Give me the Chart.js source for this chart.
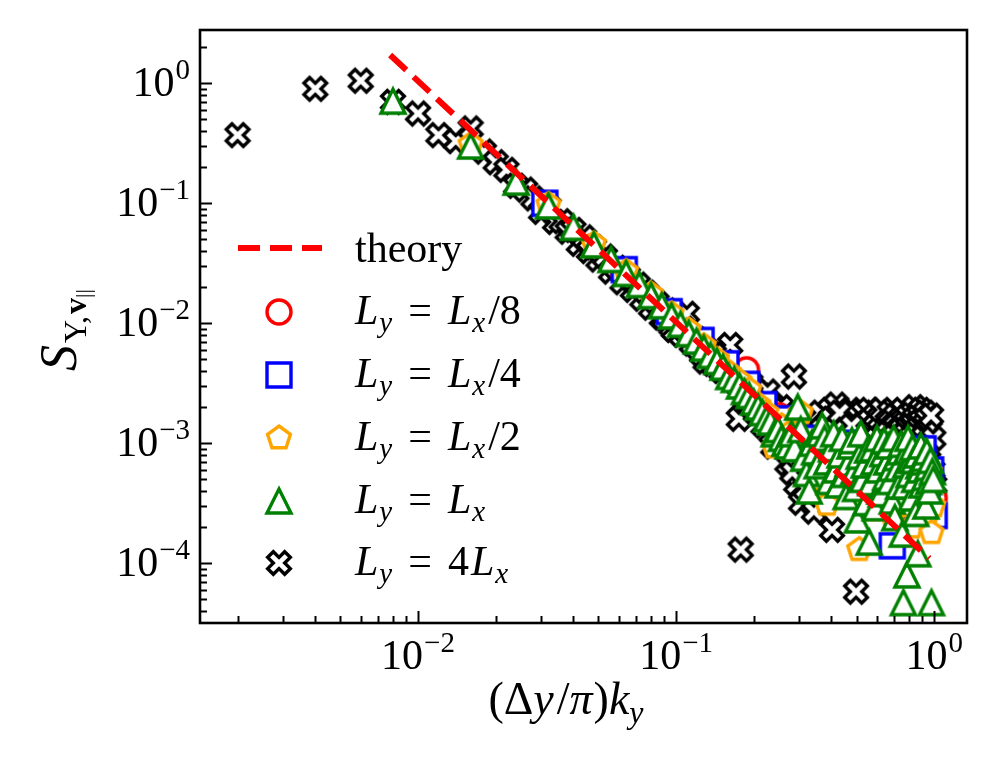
<!DOCTYPE html>
<html>
<head>
<meta charset="utf-8">
<script src="https://cdn.jsdelivr.net/npm/chart.js@4.4.1/dist/chart.umd.min.js"></script>
<style>
  html, body { margin: 0; padding: 0; background: #fff; }
  #wrap { width: 997px; height: 773px; }
</style>
</head>
<body>
<div id="wrap"><canvas id="chart" width="997" height="773"></canvas></div>
<script>
const SERIF = '"Liberation Serif", "DejaVu Serif", serif';

// axis ranges and tick exponents
const xMin = 0.00143, xMax = 1.34;
const yMin = 3.18e-5, yMax = 2.78;
const xTickExp = [-2, -1, 0];
const yTickExp = [-4, -3, -2, -1, 0];

// theory: power law drawn between its two ends
const theoryK = [0.0078, 0.957];
const theoryS = [1.72, 1.1e-4];

// L_y = L_x/8
const kLx8 = [0.0625, 0.125, 0.1875, 0.25, 0.3125, 0.375, 0.4375, 0.5, 0.5625, 0.625, 0.6875, 0.75, 0.8125, 0.875, 0.9375, 1.0];
const sLx8 = [0.027, 0.0070, 0.0041, 0.0017, 0.0011, 0.00080, 0.00065, 0.00048, 0.00060, 0.00040, 0.00055, 0.00035, 0.00050, 0.00042, 0.00030, 0.00035];

// L_y = L_x/4
const kLx4 = [0.031, 0.063, 0.094, 0.125, 0.156, 0.188, 0.219, 0.250, 0.281, 0.313, 0.344, 0.375, 0.406, 0.438, 0.469, 0.500,
  0.531, 0.563, 0.594, 0.625, 0.656, 0.688, 0.719, 0.750, 0.781, 0.813, 0.844, 0.875, 0.906, 0.938, 0.969, 1.000];
const sLx4 = [0.100, 0.028, 0.0125, 0.0072, 0.0046, 0.0031, 0.0021, 0.0016, 0.0013, 0.00095, 0.0011, 0.00075, 0.00088, 0.00060, 0.0010, 0.00050,
  0.00070, 0.00042, 0.00085, 0.00035, 0.00060, 0.00014, 0.00065, 0.00045, 0.00080, 0.00030, 0.00070, 0.00052, 0.00090, 0.00038, 0.00060, 0.00025];

// L_y = L_x/2
const kLx2 = [0.016, 0.032, 0.048, 0.064, 0.080, 0.096, 0.112, 0.128, 0.144, 0.160, 0.176, 0.192, 0.208, 0.224, 0.240, 0.256,
  0.272, 0.288, 0.304, 0.320, 0.336, 0.352, 0.368, 0.384, 0.400, 0.416, 0.432, 0.448, 0.464, 0.480, 0.496, 0.512,
  0.528, 0.544, 0.560, 0.576, 0.592, 0.608, 0.624, 0.640, 0.656, 0.672, 0.688, 0.704, 0.720, 0.736, 0.752, 0.768,
  0.784, 0.800, 0.816, 0.832, 0.848, 0.864, 0.880, 0.896, 0.912, 0.928, 0.944, 0.960, 0.976, 0.992];
const sLx2 = [0.31, 0.098, 0.046, 0.027, 0.0175, 0.012, 0.0088, 0.0065, 0.0050, 0.0039, 0.0033, 0.0028, 0.0021, 0.0018, 0.00093, 0.0014,
  0.0012, 0.0010, 0.0018, 0.00080, 0.00060, 0.00050, 0.00095, 0.00031, 0.00070, 0.00055, 0.00085, 0.00045, 0.00065, 0.00035, 0.00075, 0.00013,
  0.00055, 0.00040, 0.00080, 0.00028, 0.00060, 0.00045, 0.00090, 0.00035, 0.00070, 0.00050, 0.00025, 0.00065, 0.00040, 0.00085, 0.00030, 0.00055,
  0.00070, 0.00045, 0.00020, 0.00060, 0.00038, 0.00080, 0.00050, 0.00033, 0.00068, 0.00045, 0.00026, 0.00058, 0.00018, 0.00030];

// L_y = L_x
const kLx = [0.008, 0.016, 0.024, 0.032, 0.040, 0.048, 0.056, 0.064, 0.072, 0.080, 0.088, 0.096, 0.104, 0.112, 0.120, 0.128,
  0.136, 0.144, 0.152, 0.160, 0.168, 0.176, 0.184, 0.192, 0.200, 0.208, 0.216, 0.224, 0.232, 0.240, 0.248, 0.256,
  0.264, 0.272, 0.280, 0.288, 0.296, 0.304, 0.312, 0.320, 0.328, 0.336, 0.344, 0.352, 0.360, 0.368, 0.376, 0.384,
  0.392, 0.400, 0.408, 0.416, 0.424, 0.432, 0.440, 0.448, 0.456, 0.464, 0.472, 0.480, 0.488, 0.496, 0.504, 0.512,
  0.520, 0.528, 0.536, 0.544, 0.552, 0.560, 0.568, 0.576, 0.584, 0.592, 0.600, 0.608, 0.616, 0.624, 0.632, 0.640,
  0.648, 0.656, 0.664, 0.672, 0.680, 0.688, 0.696, 0.704, 0.712, 0.720, 0.728, 0.736, 0.744, 0.752, 0.760, 0.768,
  0.776, 0.784, 0.784, 0.792, 0.800, 0.808, 0.816, 0.824, 0.832, 0.840, 0.848, 0.856, 0.864, 0.872, 0.880, 0.888,
  0.896, 0.904, 0.912, 0.920, 0.928, 0.936, 0.944, 0.952, 0.960, 0.968, 0.976, 0.984, 0.992];
const sLx = [0.71, 0.30, 0.15, 0.095, 0.063, 0.045, 0.034, 0.026, 0.021, 0.017, 0.014, 0.0115, 0.0098, 0.0082, 0.0071, 0.0062,
  0.0054, 0.0048, 0.0043, 0.0036, 0.0034, 0.0030, 0.0027, 0.0025, 0.0022, 0.0020, 0.0018, 0.0016, 0.0015, 0.0012, 0.0013, 0.0011,
  0.0010, 0.00095, 0.0012, 0.0009, 0.0020, 0.0013, 0.00075, 0.00056, 0.00040, 0.0010, 0.00085, 0.00065, 0.0012, 0.0014, 0.0011, 0.00070,
  0.00048, 0.00090, 0.0012, 0.00060, 0.00045, 0.00080, 0.0011, 0.00055, 0.00036, 0.00068, 0.00095, 0.00105, 0.00058, 0.00042, 0.00023, 0.00078,
  0.0012, 0.00050, 0.00066, 0.00032, 0.00088, 0.00015, 0.00047, 0.00090, 0.00070, 0.00029, 0.0011, 0.00060, 0.00040, 0.00038, 0.00082, 0.00105,
  0.00052, 0.00070, 0.00095, 0.00048, 0.00062, 0.00033, 0.0011, 0.00024, 0.00076, 0.00062, 0.00044, 0.00085, 0.00098, 0.000175, 0.000047, 0.00044,
  0.00066, 0.00087, 0.000080, 0.00110, 0.00055, 0.00072, 0.00035, 0.00092, 0.00072, 0.00050, 0.00026, 0.00080, 0.00012, 0.00065, 0.00060, 0.00095,
  0.00045, 0.00070, 0.00075, 0.00052, 0.00030, 0.00085, 0.00063, 0.00048, 0.00040, 0.00072, 0.000047, 0.00058, 0.00050];

// L_y = 4 L_x
const k4Lx = [0.002, 0.004, 0.006, 0.008, 0.010, 0.012, 0.014, 0.016, 0.018, 0.020, 0.022, 0.024, 0.026, 0.028, 0.030, 0.032,
  0.034, 0.036, 0.038, 0.040, 0.042, 0.044, 0.046, 0.048, 0.050, 0.053, 0.056, 0.059, 0.062, 0.065, 0.068, 0.071,
  0.074, 0.077, 0.080, 0.084, 0.088, 0.092, 0.096, 0.100, 0.105, 0.110, 0.115, 0.120, 0.126, 0.132, 0.138, 0.144,
  0.150, 0.156, 0.162, 0.168, 0.175, 0.178, 0.182, 0.190, 0.198, 0.206, 0.214, 0.222, 0.230, 0.238, 0.246, 0.254,
  0.262, 0.270, 0.278, 0.286, 0.292, 0.300, 0.305, 0.310, 0.316, 0.322, 0.330, 0.338, 0.342, 0.346, 0.354, 0.362,
  0.370, 0.378, 0.386, 0.394, 0.402, 0.410, 0.418, 0.426, 0.434, 0.442, 0.450, 0.458, 0.466, 0.474, 0.482, 0.490,
  0.498, 0.506, 0.514, 0.522, 0.530, 0.540, 0.550, 0.560, 0.570, 0.580, 0.590, 0.600, 0.612, 0.624, 0.636, 0.648,
  0.660, 0.672, 0.684, 0.696, 0.708, 0.720, 0.732, 0.744, 0.756, 0.768, 0.780, 0.792, 0.804, 0.816, 0.828, 0.840,
  0.852, 0.864, 0.876, 0.888, 0.900, 0.912, 0.924, 0.936, 0.948, 0.960, 0.972, 0.984, 0.992, 1.000,
  0.326, 0.334, 0.350, 0.358, 0.366, 0.374, 0.382, 0.390, 0.398, 0.414, 0.430, 0.446, 0.462, 0.478, 0.494, 0.245,
  0.255, 0.265, 0.282, 0.296, 0.218, 0.226, 0.234, 0.202, 0.194, 0.186, 0.140, 0.130, 0.122, 0.108, 0.098, 0.090];
const s4Lx = [0.37, 0.90, 1.05, 0.70, 0.56, 0.37, 0.33, 0.42, 0.27, 0.22, 0.19, 0.14, 0.13, 0.11, 0.085, 0.095,
  0.070, 0.071, 0.058, 0.060, 0.046, 0.052, 0.040, 0.043, 0.034, 0.036, 0.027, 0.029, 0.022, 0.025, 0.019, 0.021,
  0.016, 0.018, 0.0135, 0.0150, 0.0112, 0.0128, 0.0094, 0.0105, 0.0080, 0.0120, 0.0068, 0.0074, 0.0055, 0.0060, 0.0046, 0.0052,
  0.0040, 0.0044, 0.0066, 0.0033, 0.0016, 0.00013, 0.0034, 0.0025, 0.0029, 0.0021, 0.0025, 0.0017, 0.0022, 0.00094, 0.0019, 0.0013,
  0.0018, 0.00068, 0.0017, 0.0036, 0.00046, 0.0016, 0.00032, 0.0013, 0.00042, 0.0011, 0.00075, 0.0015, 0.00027, 0.00055, 0.0012, 0.0018,
  0.00090, 0.0014, 0.00065, 0.0019, 0.00019, 0.0011, 0.0021, 0.0015, 0.00085, 0.0018, 0.0012, 0.00070, 0.0016, 0.0019, 0.0010, 0.0014,
  0.000058, 0.0017, 0.00090, 0.0013, 0.0018, 0.0011, 0.0015, 0.0019, 0.00080, 0.0013, 0.0017, 0.0011, 0.0016, 0.0019, 0.0012, 0.00090,
  0.0015, 0.0018, 0.0011, 0.0014, 0.0017, 0.00095, 0.0013, 0.0016, 0.0019, 0.0012, 0.0015, 0.0017, 0.0010, 0.0014, 0.0018, 0.0020,
  0.0012, 0.0015, 0.0017, 0.0019, 0.0011, 0.0014, 0.0018, 0.0016, 0.0009, 0.0013, 0.0017, 0.0006, 0.0011, 0.00045,
  0.00090, 0.00060, 0.00040, 0.00080, 0.0013, 0.00050, 0.0011, 0.00085, 0.0016, 0.0013, 0.0018, 0.00075, 0.0011, 0.0014, 0.00065, 0.0012,
  0.0020, 0.0011, 0.00057, 0.0012, 0.0014, 0.0027, 0.0012, 0.0019, 0.0032, 0.0023, 0.0055, 0.0048, 0.0062, 0.0090, 0.0088, 0.0110];

function pts(xs, ys) { return xs.map((v, i) => ({ x: v, y: ys[i] })); }

// open markers with white face, like matplotlib's o s p ^ X
function marker(kind, color) {
  const S = 24, pad = 8;
  const c = document.createElement('canvas');
  c.width = c.height = S + 2 * pad;
  const g = c.getContext('2d');
  const h = S / 2;
  g.translate(c.width / 2, c.height / 2);
  g.beginPath();
  if (kind === 'circle') g.arc(0, 0, h, 0, Math.PI * 2);
  else if (kind === 'square') g.rect(-h, -h, S, S);
  else if (kind === 'triangle') { g.moveTo(0, -h); g.lineTo(h, h); g.lineTo(-h, h); g.closePath(); }
  else if (kind === 'pentagon') {
    for (let i = 0; i < 5; i++) {
      const a = -Math.PI / 2 + i * 2 * Math.PI / 5;
      g.lineTo(h * Math.cos(a), h * Math.sin(a));
    }
    g.closePath();
  } else {
    g.rotate(Math.PI / 4);
    [[-1, -3], [1, -3], [1, -1], [3, -1], [3, 1], [1, 1], [1, 3], [-1, 3], [-1, 1], [-3, 1], [-3, -1], [-1, -1]]
      .forEach(([a, b]) => g.lineTo(a * S / 6, b * S / 6));
    g.closePath();
  }
  g.fillStyle = '#fff';
  g.fill();
  g.lineWidth = 3.4;
  g.lineJoin = 'miter';
  g.strokeStyle = color;
  g.stroke();
  return c;
}

const mk = {
  lx8: marker('circle', '#ff0000'),
  lx4: marker('square', '#0000ff'),
  lx2: marker('pentagon', '#ffa500'),
  lx: marker('triangle', '#008000'),
  l4x: marker('x', '#000000')
};

function rich(ctx, x, y, parts, align) {
  let w = 0;
  parts.forEach(p => { ctx.font = p[1]; w += ctx.measureText(p[0]).width + (p[3] || 0); });
  let cx = align === 'center' ? x - w / 2 : align === 'right' ? x - w : x;
  parts.forEach(p => {
    ctx.font = p[1];
    ctx.fillText(p[0], cx, y + (p[2] || 0));
    cx += ctx.measureText(p[0]).width + (p[3] || 0);
  });
  return w;
}

const F = 42;
const rm = `${F}px ${SERIF}`;
const it = `italic ${F}px ${SERIF}`;
const supF = `${Math.round(F * 0.7)}px ${SERIF}`;
const subI = `italic ${Math.round(F * 0.7)}px ${SERIF}`;
const T = 46;
const trm = `${T}px ${SERIF}`;
const tit = `italic ${T}px ${SERIF}`;

const decor = {
  id: 'decor',
  afterDraw(chart) {
    const { ctx, chartArea: a, scales: { x, y } } = chart;
    ctx.save();
    ctx.strokeStyle = '#000';
    ctx.lineWidth = 2;
    // inward ticks, bottom and left
    for (let e = -3; e <= 0; e++) {
      for (let m = 1; m <= 9; m++) {
        const v = m * Math.pow(10, e);
        if (v < xMin || v > xMax) continue;
        const px = Math.round(x.getPixelForValue(v)) + 0.5;
        ctx.beginPath(); ctx.moveTo(px, a.bottom); ctx.lineTo(px, a.bottom - (m === 1 ? 12 : 7)); ctx.stroke();
      }
    }
    for (let e = -5; e <= 0; e++) {
      for (let m = 1; m <= 9; m++) {
        const v = m * Math.pow(10, e);
        if (v < yMin || v > yMax) continue;
        const py = Math.round(y.getPixelForValue(v)) + 0.5;
        ctx.beginPath(); ctx.moveTo(a.left, py); ctx.lineTo(a.left + (m === 1 ? 12 : 7), py); ctx.stroke();
      }
    }
    // frame
    ctx.lineWidth = 2.6;
    ctx.strokeRect(a.left, a.top, a.right - a.left, a.bottom - a.top);

    // tick labels
    ctx.fillStyle = '#000';
    ctx.textBaseline = 'alphabetic';
    xTickExp.forEach(e => {
      const px = x.getPixelForValue(Math.pow(10, e));
      const ex = e < 0 ? '\u2212' + (-e) : String(e);
      rich(ctx, px, a.bottom + 46, [['10', rm, 0, 1], [ex, supF, -17]], 'center');
    });
    yTickExp.forEach(e => {
      const py = y.getPixelForValue(Math.pow(10, e));
      const ex = e < 0 ? '\u2212' + (-e) : String(e);
      rich(ctx, a.left - 10, py + 13, [['10', rm, 0, 1], [ex, supF, -17]], 'right');
    });

    // x title
    rich(ctx, 566, 714, [['(', trm], ['\u0394', trm], ['y', tit, 0, 3], ['/', trm], ['\u03c0', tit, 0, 1], [')', trm], ['k', tit], ['y', `italic 32px ${SERIF}`, 9]], 'center');

    // y title, rotated
    ctx.save();
    ctx.translate(76, 330);
    ctx.rotate(-Math.PI / 2);
    rich(ctx, 0, 0, [['S', `italic 52px ${SERIF}`, 0, 2], ['Y,', `32px ${SERIF}`, 10, 2], ['v', `bold 32px ${SERIF}`, 10], ['||', `22px ${SERIF}`, 14]], 'center');
    ctx.restore();

    // legend
    ctx.strokeStyle = '#ff0000';
    ctx.lineWidth = 6;
    ctx.setLineDash([22, 10]);
    ctx.beginPath(); ctx.moveTo(238, 248); ctx.lineTo(322, 248); ctx.stroke();
    ctx.setLineDash([]);
    rich(ctx, 355, 262, [['theory', rm, 0]]);
    const rows = [
      [mk.lx8, 312, '/8'],
      [mk.lx4, 375, '/4'],
      [mk.lx2, 438, '/2'],
      [mk.lx, 501, ''],
      [mk.l4x, 563, null]
    ];
    rows.forEach(([img, ry, tail]) => {
      ctx.drawImage(img, 279 - img.width / 2, ry - img.height / 2);
      const parts = [['L', it, 0, 1], ['y', subI, 8, 16], ['=', rm, 0, 16]];
      if (tail === null) parts.push(['4', rm, 0, 2]);
      parts.push(['L', it, 0, 1], ['x', subI, 8, 3]);
      if (tail) parts.push([tail, rm]);
      rich(ctx, 355, ry + 12, parts);
    });
    ctx.restore();
  }
};

function series(data, img, order) {
  return { data, pointStyle: img, pointRadius: 12, pointHoverRadius: 12, order };
}

new Chart(document.getElementById('chart'), {
  type: 'scatter',
  data: {
    datasets: [
      {
        data: pts(theoryK, theoryS), showLine: true, borderColor: '#ff0000', borderWidth: 6,
        borderDash: [22, 10], pointRadius: 0, fill: false, order: 0
      },
      series(pts(kLx, sLx), mk.lx, 1),
      series(pts(kLx2, sLx2), mk.lx2, 2),
      series(pts(kLx4, sLx4), mk.lx4, 3),
      series(pts(kLx8, sLx8), mk.lx8, 4),
      series(pts(k4Lx, s4Lx), mk.l4x, 5)
    ]
  },
  options: {
    responsive: false,
    animation: false,
    devicePixelRatio: 1,
    layout: { padding: { top: 30, right: 30, left: 0, bottom: 0 } },
    plugins: { legend: { display: false }, tooltip: { enabled: false } },
    scales: {
      x: {
        type: 'logarithmic', min: xMin, max: xMax,
        grid: { display: false }, border: { display: false }, ticks: { display: false },
        afterFit(s) { s.height = 150; }
      },
      y: {
        type: 'logarithmic', min: yMin, max: yMax,
        grid: { display: false }, border: { display: false }, ticks: { display: false },
        afterFit(s) { s.width = 200; }
      }
    }
  },
  plugins: [decor]
});
</script>
</body>
</html>
